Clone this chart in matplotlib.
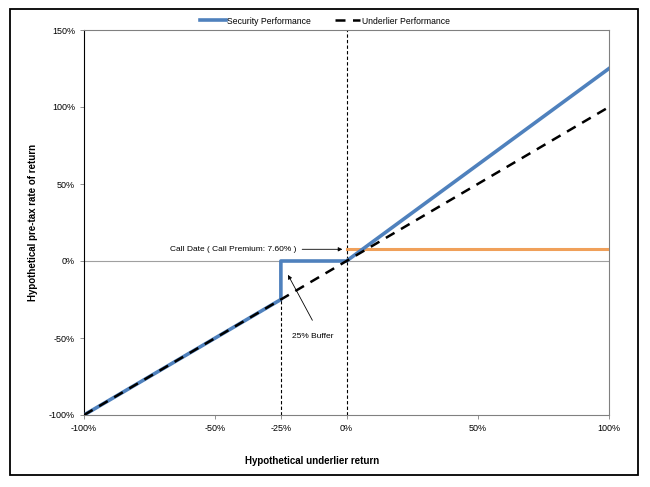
import matplotlib.pyplot as plt
from matplotlib.patches import Rectangle
from matplotlib.ticker import FuncFormatter

# data (percent)
underlier_x = [-100, 100]
underlier_y = [-100, 100]
security_x = [-100, -25, -25, 0, 100]
security_y = [-100, -25, 0, 0, 125]
call_x = [0, 100]
call_y = [7.6, 7.6]
buffer_level = -25
x_ticks = [-100, -50, -25, 0, 50, 100]
y_ticks = [-100, -50, 0, 50, 100, 150]

plt.rcParams['font.family'] = ['Liberation Sans', 'DejaVu Sans']

fig = plt.figure(figsize=(6.5, 4.87), dpi=100)
ax = fig.add_axes([84 / 650, 1 - 415 / 487, (609 - 84) / 650, (415 - 30) / 487])

# outer frame
fig.patches.append(Rectangle((10 / 650, 1 - 475 / 487), 628 / 650, 466 / 487,
                             transform=fig.transFigure, fill=False,
                             edgecolor='black', linewidth=1.3))

ax.axhline(0, color='#a0a0a0', linewidth=0.8, zorder=1)
ax.plot([0, 0], [-100, 150], color='black', linestyle=(0, (3, 2)), linewidth=0.8, zorder=2)
ax.plot([buffer_level, buffer_level], [-100, buffer_level], color='black',
        linestyle=(0, (3, 2)), linewidth=0.8, zorder=2)

ax.plot(call_x, call_y, color='#f0a05a', linewidth=2.2, zorder=3)
ax.plot(security_x, security_y, color='#4f81bd', linewidth=2.6, zorder=4,
        label='Security Performance')
ax.plot(underlier_x, underlier_y, color='black', linestyle=(0, (4, 3)), linewidth=1.8,
        zorder=5, label='Underlier Performance')

ax.set_xlim(-100, 100)
ax.set_ylim(-100, 150)
ax.set_xticks(x_ticks)
ax.set_yticks(y_ticks)
pct = FuncFormatter(lambda v, p: f'{v:.0f}%')
ax.xaxis.set_major_formatter(pct)
ax.yaxis.set_major_formatter(pct)
ax.tick_params(labelsize=6.5, length=3, width=0.6, color='#808080')

for side in ['top', 'right', 'bottom']:
    ax.spines[side].set_color('#808080')
    ax.spines[side].set_linewidth(0.8)
ax.spines['left'].set_color('black')
ax.spines['left'].set_linewidth(0.8)

ax.set_xlabel('Hypothetical underlier return', fontsize=7, fontweight='bold')
ax.xaxis.set_label_coords((312 - 84) / 525, -(456 - 415) / 385)
ax.set_ylabel('Hypothetical pre-tax rate of return', fontsize=7, fontweight='bold')
ax.yaxis.set_label_coords((38 - 84) / 525, 0.5)

ax.annotate('Call Date ( Call Premium: 7.60% )', xy=(-0.5, 7.6), xytext=(-19, 7.6),
            fontsize=6, ha='right', va='center',
            arrowprops=dict(arrowstyle='-|>', color='black', lw=0.6, mutation_scale=6))
ax.text(-12.8, -49, '25% Buffer', fontsize=6, ha='center', va='center')
ax.annotate('', xy=(-22.3, -9), xytext=(-13, -38.5),
            arrowprops=dict(arrowstyle='-|>', color='black', lw=0.6, mutation_scale=6,
                            shrinkA=0, shrinkB=0))

fig.legend(loc='center', bbox_to_anchor=(0.5, 1 - 21 / 487), ncol=2, frameon=False,
           fontsize=6.2, handlelength=3, columnspacing=2.7, handletextpad=0.2)

fig.savefig('out.png', dpi=100)
